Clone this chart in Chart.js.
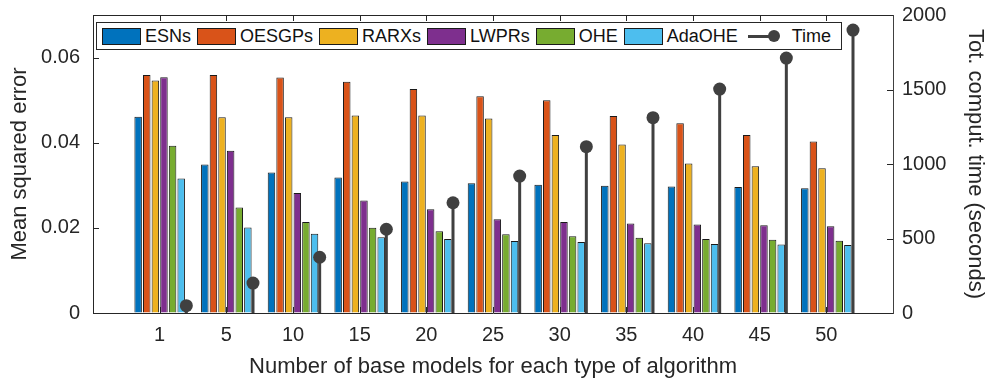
<!DOCTYPE html>
<html lang="en">
<head>
<meta charset="UTF-8">
<title>MSE and computation time</title>
<script src="https://cdn.jsdelivr.net/npm/chart.js"></script>
<style>
  body { margin: 0; background: #fff; font-family: "Liberation Sans", Arial, sans-serif; }
  #wrap { position: relative; width: 987px; height: 381px; }
  #legend {
    position: absolute; left: 96px; top: 22px; width: 746px; height: 28px;
    box-sizing: border-box; border: 1px solid #262626; background: #fff;
    display: flex; align-items: center; padding-left: 5px;
    font-size: 18px; color: #111;
  }
  .item { display: flex; align-items: center; margin-right: 6px; }
  .sw { width: 39px; height: 17px; box-sizing: border-box; border: 1px solid #1a1a1a; margin-right: 4px; }
  .stemkey { position: relative; width: 32px; height: 14px; margin: 0 12px 0 4px; }
  .stemkey .ln { position: absolute; left: 0; right: 4px; top: 6px; height: 3px; background: #404040; }
  .stemkey .dot { position: absolute; right: 0; top: 1px; width: 12px; height: 12px; border-radius: 50%; background: #404040; }
</style>
</head>
<body>
<div id="wrap">
  <canvas id="chart" width="987" height="381"></canvas>
  <div id="legend"></div>
</div>
<script>
// number of base models per algorithm type
const models = ['1', '5', '10', '15', '20', '25', '30', '35', '40', '45', '50'];

// mean squared error per algorithm
const esns   = [0.0461, 0.0349, 0.0330, 0.0318, 0.0309, 0.0305, 0.0301, 0.0299, 0.0297, 0.0296, 0.0293];
const oesgps = [0.0559, 0.0559, 0.0553, 0.0543, 0.0526, 0.0509, 0.0500, 0.0463, 0.0446, 0.0418, 0.0403];
const rarxs  = [0.0546, 0.0460, 0.0460, 0.0464, 0.0464, 0.0457, 0.0418, 0.0396, 0.0351, 0.0345, 0.0340];
const lwprs  = [0.0554, 0.0381, 0.0282, 0.0264, 0.0244, 0.0220, 0.0214, 0.0210, 0.0208, 0.0206, 0.0204];
const ohe    = [0.0393, 0.0248, 0.0214, 0.0200, 0.0192, 0.0185, 0.0180, 0.0177, 0.0174, 0.0172, 0.0170];
const adaohe = [0.0316, 0.0201, 0.0186, 0.0178, 0.0174, 0.0169, 0.0167, 0.0164, 0.0162, 0.0161, 0.0160];

// total computation time (seconds)
const times = [49, 201, 374, 562, 740, 919, 1116, 1311, 1503, 1711, 1899];

const seriesNames  = ['ESNs', 'OESGPs', 'RARXs', 'LWPRs', 'OHE', 'AdaOHE'];
const seriesColors = ['#0072BD', '#D95319', '#EDB120', '#7E2F8E', '#77AC30', '#4DBEEE'];
const seriesValues = [esns, oesgps, rarxs, lwprs, ohe, adaohe];
const timeColor = '#404040';
const axisColor = '#262626';

// groups sit at 1..11 on a 0..12 axis, the time stem just right of each group
const stemShift = 0.4;

const barSets = seriesNames.map((name, i) => ({
  label: name,
  data: seriesValues[i].map((v, k) => ({ x: k + 1, y: v })),
  backgroundColor: seriesColors[i],
  borderColor: '#1a1a1a',
  borderWidth: 1,
  categoryPercentage: 0.775,
  barPercentage: 0.87,
  order: 1
}));

// stems: one vertical segment per time value, split by gaps
const stemPoints = [];
times.forEach((t, i) => {
  const x = i + 1 + stemShift;
  stemPoints.push({ x: x, y: 0 }, { x: x, y: t }, { x: x, y: null });
});
const stemSet = {
  type: 'line',
  label: 'Time stem',
  data: stemPoints,
  yAxisID: 'yt',
  borderColor: timeColor,
  borderWidth: 3,
  borderCapStyle: 'butt',
  spanGaps: false,
  pointRadius: 0,
  order: 0
};
const dotSet = {
  type: 'line',
  label: 'Time',
  data: times.map((t, i) => ({ x: i + 1 + stemShift, y: t })),
  yAxisID: 'yt',
  showLine: false,
  pointRadius: 6.5,
  pointBackgroundColor: timeColor,
  pointBorderWidth: 0,
  order: -1
};

// inward ticks + top frame line, like the matlab box
const boxTicks = {
  id: 'boxTicks',
  afterDatasetsDraw(chart) {
    const { ctx, chartArea: a, scales } = chart;
    ctx.save();
    ctx.strokeStyle = axisColor;
    ctx.lineWidth = 1;
    ctx.beginPath();
    ctx.moveTo(a.left, a.top + 0.5); ctx.lineTo(a.right, a.top + 0.5);
    scales.x.ticks.forEach((t, i) => {
      if (!t.label) return;
      const px = Math.round(scales.x.getPixelForTick(i)) + 0.5;
      ctx.moveTo(px, a.bottom); ctx.lineTo(px, a.bottom - 6);
      ctx.moveTo(px, a.top); ctx.lineTo(px, a.top + 6);
    });
    scales.y.ticks.forEach((t, i) => {
      const py = Math.round(scales.y.getPixelForTick(i)) + 0.5;
      ctx.moveTo(a.left, py); ctx.lineTo(a.left + 6, py);
    });
    scales.yt.ticks.forEach((t, i) => {
      const py = Math.round(scales.yt.getPixelForTick(i)) + 0.5;
      ctx.moveTo(a.right, py); ctx.lineTo(a.right - 6, py);
    });
    ctx.stroke();
    ctx.restore();
  }
};

const tickFont = { family: '"Liberation Sans", Arial, sans-serif', size: 20 };
const titleFont = { family: '"Liberation Sans", Arial, sans-serif', size: 22, lineHeight: 1 };

// fixed axis boxes so the plot area lands where the original one is
const fitWidth = w => s => { s.width = w; s.paddingTop = 0; s.paddingBottom = 0; };

new Chart(document.getElementById('chart'), {
  type: 'bar',
  data: { datasets: barSets.concat([stemSet, dotSet]) },
  options: {
    responsive: false,
    animation: false,
    layout: { padding: { top: 15, left: 0, right: 0, bottom: 0 } },
    plugins: { legend: { display: false }, tooltip: { enabled: false } },
    scales: {
      x: {
        type: 'linear',
        min: 0, max: 12,
        offset: false,
        grid: { display: true, drawOnChartArea: false, drawTicks: false, offset: false },
        border: { color: axisColor, width: 1 },
        ticks: { stepSize: 1, autoSkip: false, maxRotation: 0, padding: 10, color: axisColor, font: tickFont,
                 callback: v => models[v - 1] || '' },
        title: { display: true, text: 'Number of base models for each type of algorithm',
                 color: axisColor, font: titleFont, padding: { top: 0, bottom: 3 } },
        afterFit: s => { s.height = 68; s.paddingLeft = 0; s.paddingRight = 0; }
      },
      y: {
        position: 'left',
        min: 0, max: 0.07,
        grid: { display: true, drawOnChartArea: false, drawTicks: false },
        border: { color: axisColor, width: 1 },
        ticks: { stepSize: 0.02, includeBounds: false, padding: 13, color: axisColor, font: tickFont,
                 callback: v => String(Number(v.toFixed(4))) },
        title: { display: true, text: 'Mean squared error', color: axisColor, font: titleFont,
                 padding: { top: 9, bottom: 0 } },
        afterFit: fitWidth(93)
      },
      yt: {
        position: 'right',
        min: 0, max: 2000,
        grid: { display: true, drawOnChartArea: false, drawTicks: false },
        border: { color: timeColor, width: 1 },
        ticks: { stepSize: 500, padding: 9, color: axisColor, font: tickFont,
                 callback: v => String(v) },
        title: { display: true, text: 'Tot. comput. time (seconds)', color: axisColor, font: titleFont,
                 padding: { top: 1, bottom: 0 } },
        afterFit: fitWidth(94)
      }
    }
  },
  plugins: [boxTicks]
});

// legend in the top of the plot box
const legend = document.getElementById('legend');
seriesNames.forEach((name, i) => {
  const item = document.createElement('div');
  item.className = 'item';
  item.innerHTML = '<span class="sw" style="background:' + seriesColors[i] + '"></span><span>' + name + '</span>';
  legend.appendChild(item);
});
const timeItem = document.createElement('div');
timeItem.className = 'item';
timeItem.innerHTML = '<span class="stemkey"><span class="ln"></span><span class="dot"></span></span><span>Time</span>';
legend.appendChild(timeItem);
</script>
</body>
</html>
